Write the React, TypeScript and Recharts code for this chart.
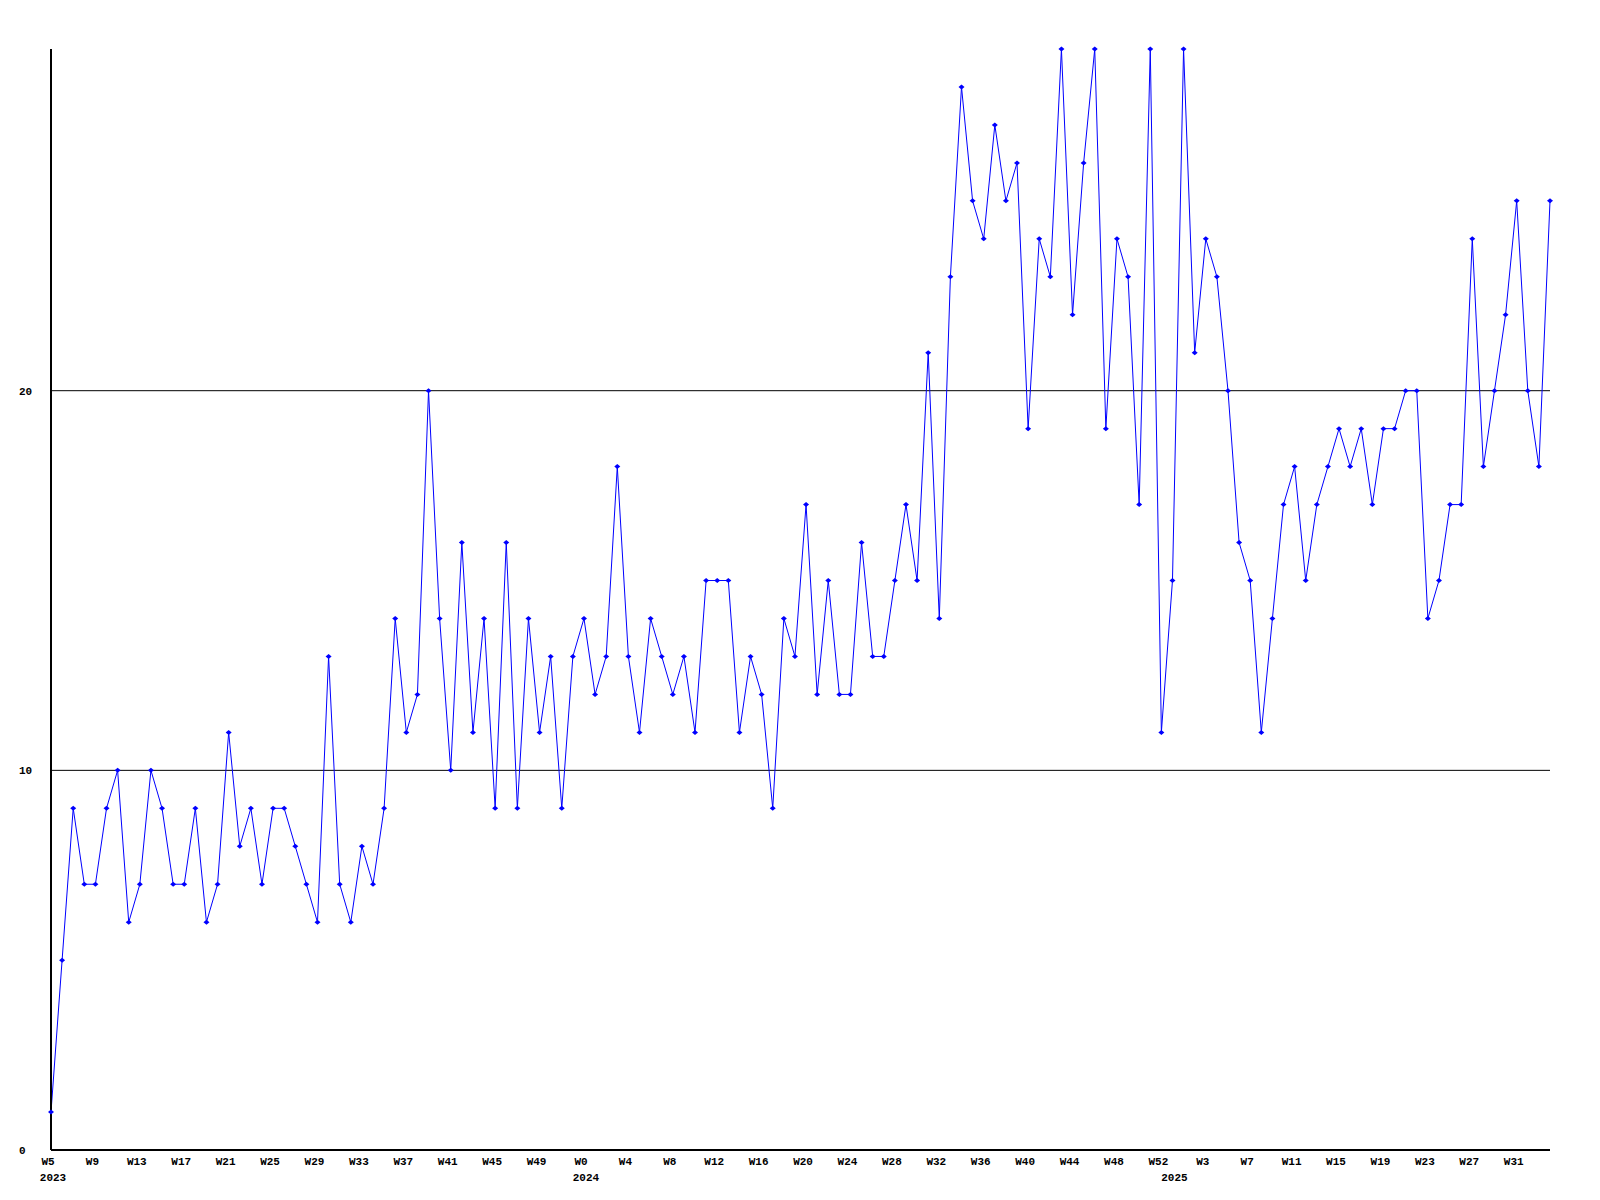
import { LineChart, Line, XAxis, YAxis, ReferenceLine } from "recharts";

// weeks covered by the series, per year
const years = ["2023", "2024", "2025"];
const firstWeek = [5, 0, 0];
const lastWeek = [52, 52, 34];

// one value per week
const values = [
  1, 5, 9, 7, 7, 9, 10, 6, 7, 10,
  9, 7, 7, 9, 6, 7, 11, 8, 9, 7,
  9, 9, 8, 7, 6, 13, 7, 6, 8, 7,
  9, 14, 11, 12, 20, 14, 10, 16, 11, 14,
  9, 16, 9, 14, 11, 13, 9, 13, 14, 12,
  13, 18, 13, 11, 14, 13, 12, 13, 11, 15,
  15, 15, 11, 13, 12, 9, 14, 13, 17, 12,
  15, 12, 12, 16, 13, 13, 15, 17, 15, 21,
  14, 23, 28, 25, 24, 27, 25, 26, 19, 24,
  23, 29, 22, 26, 29, 19, 24, 23, 17, 29,
  11, 15, 29, 21, 24, 23, 20, 16, 15, 11,
  14, 17, 18, 15, 17, 18, 19, 18, 19, 17,
  19, 19, 20, 20, 14, 15, 17, 17, 24, 18,
  20, 22, 25, 20, 18, 25,
];

const yTicks = [0, 10, 20];
const gridValues = [10, 20];
const weekLabelStep = 4;

type Row = { idx: number; week: string; year: string; yearStart: boolean; value: number };

const rows: Row[] = [];
years.forEach((year, yi) => {
  for (let w = firstWeek[yi]; w <= lastWeek[yi]; w++) {
    const idx = rows.length;
    rows.push({ idx, week: `W${w}`, year, yearStart: w === firstWeek[yi], value: values[idx] });
  }
});

const xTicks = rows.filter((r) => r.idx % weekLabelStep === 0 || r.yearStart).map((r) => r.idx);

const FONT = "'Liberation Mono', 'DejaVu Sans Mono', monospace";

const XTick = (props: any) => {
  const { x, payload } = props;
  const row = rows[payload.value];
  if (!row) return null;
  return (
    <g>
      {row.idx % weekLabelStep === 0 && (
        <text x={x - 3} y={1165} textAnchor="middle" fontFamily={FONT} fontWeight="bold" fontSize={11} fill="#000">
          {row.week}
        </text>
      )}
      {row.yearStart && (
        <text x={x + 2} y={1181} textAnchor="middle" fontFamily={FONT} fontWeight="bold" fontSize={11} fill="#000">
          {row.year}
        </text>
      )}
    </g>
  );
};

const YTick = (props: any) => {
  const { y, payload } = props;
  return (
    <text x={19} y={y + 4} textAnchor="start" fontFamily={FONT} fontWeight="bold" fontSize={11} fill="#000">
      {payload.value}
    </text>
  );
};

const Marker = (props: any) => {
  const { cx, cy, index } = props;
  if (cx == null || cy == null) return <g key={index} />;
  return (
    <polygon
      key={index}
      points={`${cx - 3},${cy} ${cx},${cy - 2.5} ${cx + 3},${cy} ${cx},${cy + 2.5}`}
      fill="#0000ff"
    />
  );
};

export default function App() {
  return (
    <div style={{ position: "absolute", left: 0, top: 0, width: 1600, height: 1200, background: "#fff" }}>
      <LineChart width={1600} height={1200} data={rows} margin={{ top: 49, right: 50, left: 50, bottom: 0 }}>
        <XAxis
          dataKey="idx"
          type="number"
          domain={[0, rows.length - 1]}
          ticks={xTicks}
          interval={0}
          height={50}
          tickLine={false}
          axisLine={{ stroke: "#000", strokeWidth: 2 }}
          tick={<XTick />}
        />
        <YAxis
          type="number"
          domain={[0, 29]}
          ticks={yTicks}
          interval={0}
          width={1}
          tickLine={false}
          axisLine={{ stroke: "#000", strokeWidth: 2 }}
          tick={<YTick />}
        />
        {gridValues.map((v) => (
          <ReferenceLine key={v} y={v} stroke="#000" strokeWidth={1} ifOverflow="visible" />
        ))}
        <Line
          type="linear"
          dataKey="value"
          stroke="#0000ff"
          strokeWidth={1}
          dot={Marker}
          activeDot={false}
          isAnimationActive={false}
        />
      </LineChart>
    </div>
  );
}
